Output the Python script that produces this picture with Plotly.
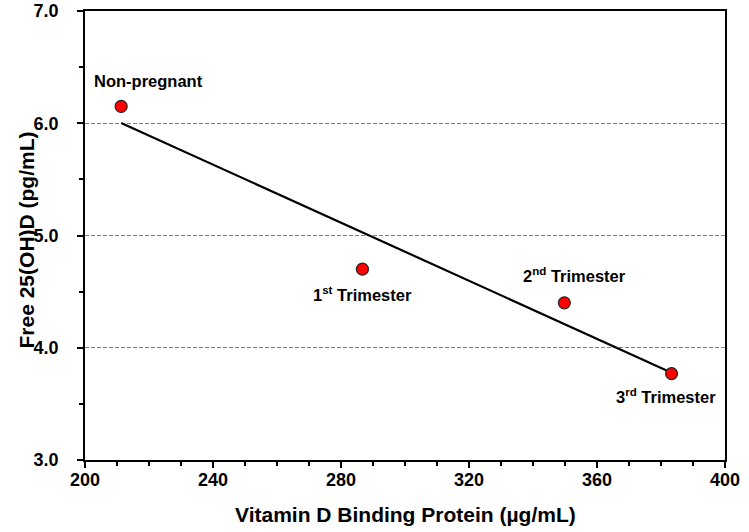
import numpy as np
import plotly.graph_objects as go

# Data
groups = ["Non-pregnant", "1<sup>st</sup> Trimester", "2<sup>nd</sup> Trimester", "3<sup>rd</sup> Trimester"]
dbp = [211.3, 286.7, 349.8, 383.3]          # Vitamin D Binding Protein (µg/mL)
free_d = [6.15, 4.70, 4.40, 3.77]           # Free 25(OH)D (pg/mL)
label_dx = [27, 0, 10, -6]
label_dy = [25, -25, 28, -22]

x_ticks = [200, 240, 280, 320, 360, 400]
y_ticks = [3.0, 4.0, 5.0, 6.0, 7.0]
x_title = "Vitamin D Binding Protein (µg/mL)"
y_title = "Free 25(OH)D (pg/mL)"

FONT = "Liberation Sans"

# Linear regression fit line across the observed range
slope, intercept = np.polyfit(dbp, free_d, 1)
fit_x = [min(dbp), max(dbp)]
fit_y = [slope * v + intercept for v in fit_x]

fig = go.Figure()
fig.add_trace(go.Scatter(
    x=fit_x, y=fit_y, mode="lines",
    line=dict(color="black", width=2.2),
    showlegend=False, hoverinfo="skip",
))
fig.add_trace(go.Scatter(
    x=dbp, y=free_d, mode="markers",
    marker=dict(size=12, color="#FF0000", line=dict(color="#222222", width=1.2)),
    showlegend=False,
))

for g, xv, yv, dx, dy in zip(groups, dbp, free_d, label_dx, label_dy):
    fig.add_annotation(
        x=xv, y=yv, text=g, showarrow=False,
        xshift=dx, yshift=dy,
        font=dict(family=FONT, size=16.5, color="black", weight="bold"),
    )

title_font = dict(family=FONT, size=21, color="black", weight="bold")
fig.add_annotation(
    xref="paper", yref="paper", x=0.5, y=0, text=x_title, showarrow=False,
    xanchor="center", yanchor="middle", yshift=-54, font=title_font,
)
fig.add_annotation(
    xref="paper", yref="paper", x=0, y=0.5, text=y_title, showarrow=False,
    textangle=-90, xanchor="center", yanchor="middle", xshift=-59, yshift=-5,
    font=title_font,
)

axis_common = dict(
    showline=True, linecolor="black", linewidth=1.6, mirror=True,
    ticks="outside", tickcolor="black", tickwidth=1.5,
    tickfont=dict(family=FONT, size=18, color="black", weight="bold"),
    zeroline=False, automargin=False,
)

fig.update_xaxes(
    range=[200, 400], tickvals=x_ticks, ticklen=6,
    showgrid=False,
    minor=dict(ticks="outside", dtick=10, ticklen=4, tickcolor="black", tickwidth=1.5, showgrid=False),
    ticklabelstandoff=-3,
    **axis_common,
)
fig.update_yaxes(
    range=[3, 7], tickvals=y_ticks, tickformat=".1f", ticklen=6,
    showgrid=True, gridcolor="#808080", gridwidth=1, griddash="4px,2px",
    minor=dict(ticks="outside", dtick=0.5, ticklen=4, tickcolor="black", tickwidth=1.5, showgrid=False),
    ticklabelstandoff=15,
    **axis_common,
)

fig.update_layout(
    width=749, height=532,
    margin=dict(l=85, r=24, t=11, b=72, autoexpand=False),
    plot_bgcolor="white", paper_bgcolor="white",
    font=dict(family=FONT),
)

# Remove the default page margin so the 749x532 figure fills the window exactly
fig.write_html("out.html", config={"displayModeBar": False},
               post_script="document.body.style.margin='0';")
